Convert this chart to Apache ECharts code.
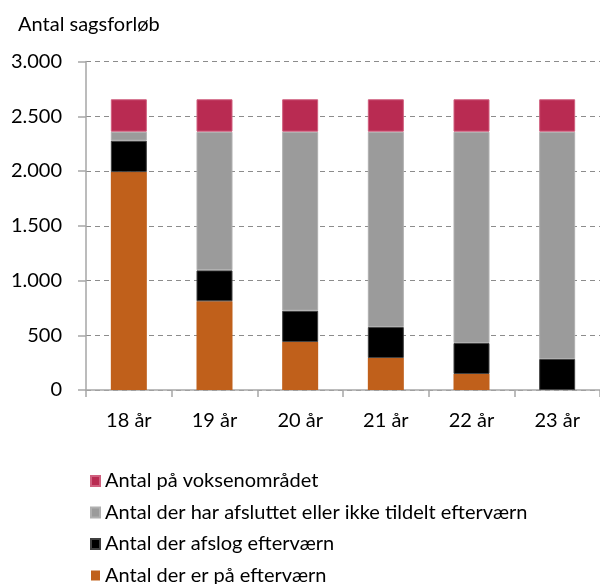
<!DOCTYPE html>
<html><head><meta charset="utf-8">
<script src="https://cdn.jsdelivr.net/npm/echarts@6/dist/echarts.min.js"></script>
<style>html,body{margin:0;padding:0;background:#fff}#c{width:600px;height:584px}</style>
</head><body><div id="c"></div>
<script>
var categories = ["18 år","19 år","20 år","21 år","22 år","23 år"];
var efterværn = [1990, 810, 438, 292, 146, 0];
var afslog = [287, 283, 286, 283, 283, 283];
var afsluttet = [82, 1266, 1635, 1784, 1930, 2076];
var voksen = [296, 296, 296, 296, 296, 296];
var seriesNames = ["Antal der er på efterværn","Antal der afslog efterværn","Antal der har afsluttet eller ikke tildelt efterværn","Antal på voksenområdet"];
var yTicks = [0, 500, 1000, 1500, 2000, 2500, 3000];

var FONT = "Lato";
var FS = 20;
var chart = echarts.init(document.getElementById('c'), null, {renderer:'canvas'});
function fmt(v){ return String(v).replace(/\B(?=(\d{3})+(?!\d))/g, '.'); }
function bar(name, data, color, border, bw){
  return {name:name, type:'bar', stack:'a', data:data, barWidth:36,
    itemStyle:{color:color, borderColor:border, borderWidth:bw}};
}
chart.setOption({
  animation:false,
  textStyle:{fontFamily:FONT},
  title:{text:"Antal sagsforløb", left:13, top:10, textStyle:{fontFamily:FONT, fontSize:FS, fontWeight:'normal', color:'#000'}},
  grid:{left:86, top:61.5, width:524, height:328.5, containLabel:false},
  legend:{orient:'vertical', left:85, top:466, height:130, itemWidth:9, itemHeight:10, itemGap:11.5,
    icon:'rect', textStyle:{fontFamily:FONT, fontSize:FS, color:'#000', lineHeight:20},
    data:[seriesNames[3], seriesNames[2], seriesNames[1], seriesNames[0]]},
  xAxis:{type:'category', data:categories,
    axisLine:{lineStyle:{color:'#a6a6a6', width:1.5}},
    axisTick:{show:true, length:7, lineStyle:{color:'#a6a6a6', width:1.5}},
    axisLabel:{fontFamily:FONT, fontSize:FS, color:'#000', margin:21}},
  yAxis:{type:'value', min:yTicks[0], max:yTicks[yTicks.length-1], interval:500,
    axisLine:{show:true, lineStyle:{color:'#a6a6a6', width:1.5}},
    axisTick:{show:true, length:8, lineStyle:{color:'#a6a6a6', width:1.5}},
    splitLine:{lineStyle:{color:'#8c8c8c', type:[5,4], width:1}},
    axisLabel:{fontFamily:FONT, fontSize:FS, color:'#000', margin:24, formatter:fmt}},
  series:[
    bar(seriesNames[0], efterværn, '#C0601B', '#E36C0A', 0),
    bar(seriesNames[1], afslog, '#000000', '#404040', 1),
    bar(seriesNames[2], afsluttet, '#9B9B9B', '#B0B0B0', 1),
    bar(seriesNames[3], voksen, '#B92B52', '#D0607F', 1)
  ]
});
</script></body></html>
